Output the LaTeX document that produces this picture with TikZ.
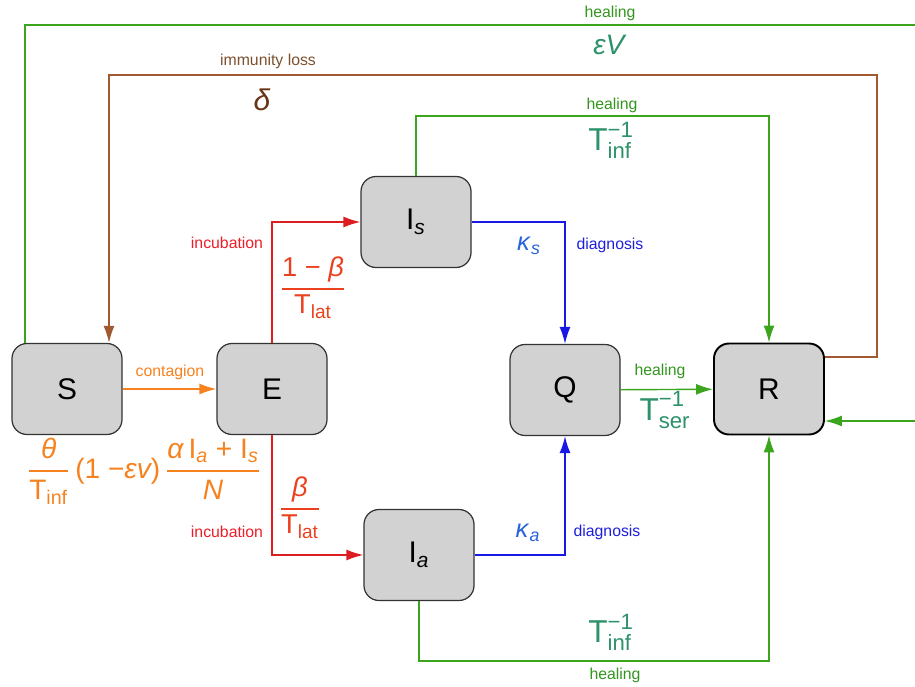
\documentclass[tikz,border=0pt]{standalone}
\usepackage{fontspec}
\setmainfont{Liberation Sans}
\usepackage{amsmath}
\usetikzlibrary{arrows.meta,positioning,calc}

\definecolor{healline}{RGB}{60,165,30}
\definecolor{healtext}{RGB}{50,150,30}
\definecolor{ratetext}{RGB}{45,145,105}
\definecolor{lossline}{RGB}{160,90,50}
\definecolor{losstext}{RGB}{125,80,45}
\definecolor{deltatext}{RGB}{105,50,20}
\definecolor{incline}{RGB}{220,30,35}
\definecolor{inctext}{RGB}{235,30,40}
\definecolor{incrate}{RGB}{235,65,30}
\definecolor{diagline}{RGB}{25,25,230}
\definecolor{diagtext}{RGB}{30,30,220}
\definecolor{kappatext}{RGB}{40,100,220}
\definecolor{contag}{RGB}{245,130,30}

\newcommand{\ofrac}[2]{\genfrac{}{}{1pt}{0}{#1}{#2}}
\newcommand{\boxfont}{\fontsize{17}{19}\selectfont}
\newcommand{\bigfont}{\fontsize{14.5}{17}\selectfont}
\newcommand{\smallfont}{\fontsize{9}{11}\selectfont}

\begin{document}
\begin{tikzpicture}[x=0.2mm,y=-0.2mm,
	box/.style={draw=black!80, fill=gray!35, rounded corners=3mm, minimum width=22mm, minimum height=18.2mm, line width=0.7pt, font=\boxfont},
	link/.style={line width=0.8pt, -{Latex[length=3.4mm,width=2.2mm]}},
	lbl/.style={inner sep=0pt, font=\smallfont}]
	\clip (0,0) rectangle (915,687);
	\node[box] (S) at (67,389) {S};
	\node[box] (E) at (272,389) {E};
	\node[box] (Is) at (416,222) {I$_{\textit{s}}$};
	\node[box] (Ia) at (419,555) {I$_{\textit{a}}$};
	\node[box] (Q) at (565,390) {Q};
	\node[box, draw=black, line width=1.1pt] (R) at (769,389) {R};
	\draw[link, contag] (S) -- (E);
	\draw[link, incline] (E.north) |- (Is.west);
	\draw[link, incline] (E.south) |- (Ia.west);
	\draw[link, diagline] (Is.east) -| (Q.north);
	\draw[link, diagline] (Ia.east) -| (Q.south);
	\draw[link, healline] (Q) -- (R);
	\draw[link, healline] (Is.north) -- ++(0,-60) -| (R.north);
	\draw[link, healline] (Ia.south) -- ++(0,60) -| (R.south);
	\draw[link, lossline] ([yshift=6.4mm]R.east) -| (877,75) -| ([xshift=8.4mm]S.north);
	\draw[link, healline] ([xshift=-8.4mm]S.north) |- (925,25) |- ([yshift=-6.4mm]R.east);
	\node[lbl, healtext] (healTop) at (610,13) {healing};
	\node[ratetext, font=\fontsize{16}{18}\selectfont] (epsV) at (610,45) {\textit{εV}};
	\node[lbl, losstext] (immLoss) at (268,61) {immunity loss};
	\node[deltatext, font=\fontsize{17}{19}\selectfont] (delta) at (262,100) {\textit{δ}};
	\node[lbl, healtext] (healS) at (612,105) {healing};
	\node[ratetext, font=\fontsize{18}{20}\selectfont] (tinfS) at (611,140) {$\text{T}^{\text{−1}}_{\text{inf}}$};
	\node[lbl, inctext] (incS) at (227,243) {incubation};
	\node[incrate, font=\fontsize{15.5}{18}\selectfont] (rateS) at (313,288) {$\ofrac{\text{1 − }\textit{β}}{\text{T}_{\text{lat}}}$};
	\node[kappatext, font=\bigfont] (kappaS) at (529,246) {\textit{κ}$_{\textit{s}}$};
	\node[lbl, diagtext] (diagS) at (610,245) {diagnosis};
	\node[lbl, contag] (contagion) at (170,372) {contagion};
	\node[lbl, healtext] (healQ) at (660,371) {healing};
	\node[ratetext, font=\fontsize{18}{20}\selectfont] (tser) at (665,410) {$\text{T}^{\text{−1}}_{\text{ser}}$};
	\node[contag, font=\fontsize{16}{19}\selectfont] (force) at (144,471) {$\ofrac{\textit{θ}}{\text{T}_{\text{inf}}}\,\text{(1 −}\textit{εv}\text{)}\,\ofrac{\textit{α}\,\text{I}_{\textit{a}}\text{ + I}_{\textit{s}}}{\textit{N}}$};
	\node[incrate, font=\fontsize{15.5}{18}\selectfont] (rateA) at (300,508) {$\ofrac{\textit{β}}{\text{T}_{\text{lat}}}$};
	\node[lbl, inctext] (incA) at (227,532) {incubation};
	\node[kappatext, font=\bigfont] (kappaA) at (528,533) {\textit{κ}$_{\textit{a}}$};
	\node[lbl, diagtext] (diagA) at (607,532) {diagnosis};
	\node[ratetext, font=\fontsize{18}{20}\selectfont] (tinfA) at (611,632) {$\text{T}^{\text{−1}}_{\text{inf}}$};
	\node[lbl, healtext] (healA) at (615,675) {healing};
\end{tikzpicture}
\end{document}
